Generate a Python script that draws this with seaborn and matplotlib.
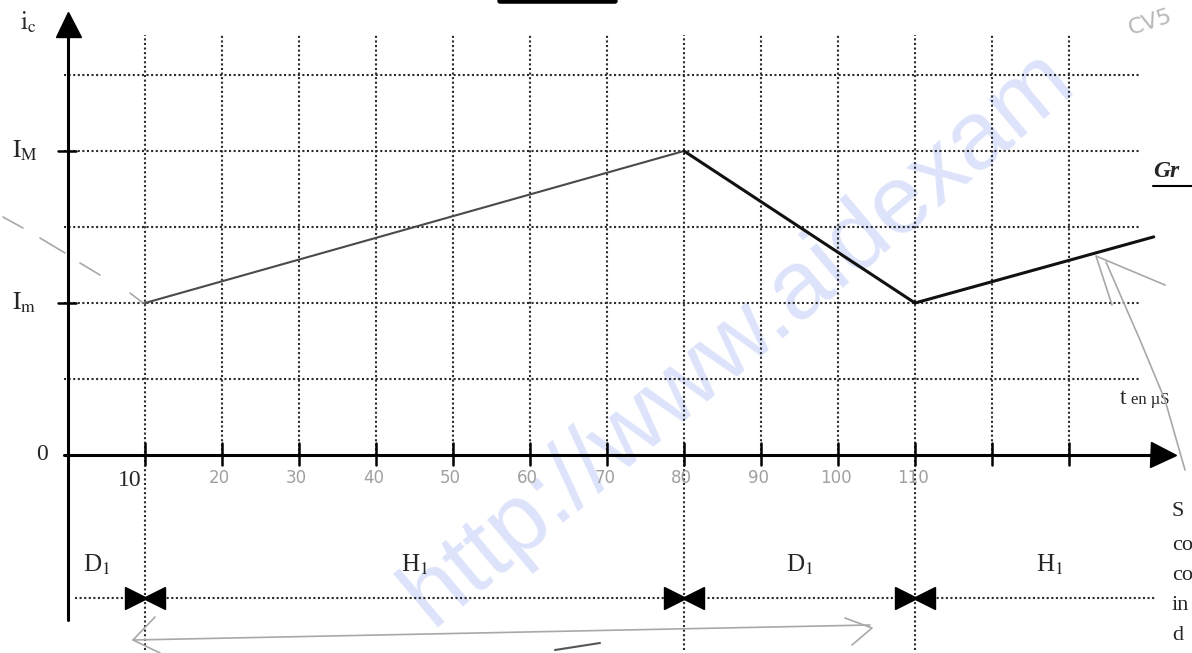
import matplotlib
matplotlib.use("Agg")
import matplotlib.pyplot as plt
import numpy as np
import pandas as pd
import seaborn as sns

# Collector current waveform i_c(t): corner times (µs) and levels (grid units, I_m = 2, I_M = 4)
t_nodes = [10, 80, 110, 141]
ic_nodes = [2.0, 4.0, 2.0, 2.87]

# Named current levels on the vertical axis
level_names = ["I_M", "I_m", "0"]
level_values = [4.0, 2.0, 0.0]

# Grid
h_grid = [1, 2, 3, 4, 5]
v_grid = [10, 20, 30, 40, 50, 60, 70, 80, 90, 100, 110, 120, 130]
long_verticals = [10, 80, 110]

# Hand-written time graduations
tick_values = [20, 30, 40, 50, 60, 70, 80, 90, 100, 110]
tick_labels = ["20", "30", "40", "50", "60", "70", "80", "90", "100", "110"]

# Conduction intervals (diode D1 / transistor H1)
interval_edges = [0, 10, 80, 110, 141]
interval_names = ["D$_1$", "H$_1$", "D$_1$", "H$_1$"]

sns.set_style("white")
plt.rcParams["font.family"] = ["Liberation Serif", "DejaVu Serif"]
plt.rcParams["mathtext.fontset"] = "stix"

PX_PER_US = 7.7
PX_PER_UNIT = 76.0
X0, Y0 = 68.0, 455.0
W, H = 1192, 653


def X(px):
    return (px - X0) / PX_PER_US


def Y(py):
    return (Y0 - py) / PX_PER_UNIT


fig = plt.figure(figsize=(W / 100, H / 100), dpi=100)
ax = fig.add_axes([0, 0, 1, 1])
ax.set_xlim(X(0), X(W))
ax.set_ylim(Y(H), Y(0))
ax.axis("off")

dot = (0, (1.0, 1.2))
grid_kw = dict(color="#2b2b2b", lw=1.5, linestyle=dot, zorder=2)

# watermark
ax.text(X(738), Y(338), "http://www.aidexam", fontsize=70, family="Liberation Sans",
        color="#dde3fa", rotation=40, rotation_mode="anchor", ha="center", va="center", zorder=0)

# dotted grid
for g in h_grid:
    ax.plot([X(64), X(1140)], [g, g], **grid_kw)
for v in v_grid:
    bottom = Y(650) if v in long_verticals else 0
    ax.plot([v, v], [bottom, Y(35)], **grid_kw)

# axes with arrows
ax.plot([0, 0], [Y(620), Y(30)], color="black", lw=2.2, zorder=4)
ax.plot([0], [Y(24)], marker="^", ms=18, color="black", zorder=4)
ax.plot([X(64), X(1155)], [0, 0], color="black", lw=2.2, zorder=4)
ax.plot([X(1163)], [0], marker=">", ms=18, color="black", zorder=4)

# graduations on the time axis
for v in v_grid:
    ax.plot([v, v], [Y(465), Y(443)], color="black", lw=1.8, zorder=4)
# level marks on the current axis
for name, val in zip(level_names, level_values):
    if val > 0:
        ax.plot([X(58), X(76)], [val, val], color="black", lw=1.8, zorder=4)

# level labels
ax.text(X(12), 4.0, r"$\mathrm{I_M}$", fontsize=18, ha="left", va="center")
ax.text(X(12), 2.0, r"$\mathrm{I_m}$", fontsize=18, ha="left", va="center")
ax.text(X(42), 0.0, "0", fontsize=17, ha="center", va="center")
ax.text(X(20), Y(22), r"$\mathrm{i_c}$", fontsize=18, ha="left", va="center")

# time labels
ax.text(X(130), Y(480), "10", fontsize=17, ha="center", va="center")
for v, lab in zip(tick_values, tick_labels):
    ax.text(v - 0.3, Y(478), lab, fontsize=12, family="DejaVu Sans", color="#a0a0a0",
            ha="center", va="center")
ax.text(X(1120), Y(398), "t", fontsize=17, ha="left", va="center")
ax.text(X(1131), Y(400), "en µS", fontsize=12, ha="left", va="center")

# waveform: linear rise while H1 conducts, fall while D1 conducts
df = pd.DataFrame({"t": t_nodes, "ic": ic_nodes})
sns.lineplot(data=df.iloc[0:2], x="t", y="ic", ax=ax, color="#4a4a4a", lw=1.5, zorder=5)
sns.lineplot(data=df.iloc[1:4], x="t", y="ic", ax=ax, color="#111111", lw=2.2, zorder=5)

# conduction intervals
y_int = Y(598)
ax.plot([X(75), X(1155)], [y_int, y_int], **grid_kw)
head_off = 9 / PX_PER_US
for edge in interval_edges[1:-1]:
    ax.plot([edge - head_off], [y_int], marker=">", ms=16, color="black", zorder=5)
    ax.plot([edge + head_off], [y_int], marker="<", ms=16, color="black", zorder=5)
for k, name in enumerate(interval_names):
    lo, hi = interval_edges[k], interval_edges[k + 1]
    xc = (lo + hi) / 2 if k > 0 else X(97)
    if k == len(interval_names) - 1:
        xc = X(1050)
    ax.text(xc, Y(565), name, fontsize=18, ha="center", va="center")

# pencil marks
pencil = dict(color="#a8a8a8", lw=1.2, zorder=3)
ax.plot([X(133), X(870)], [Y(640), Y(625)], **pencil)
ax.plot([X(155), X(133), X(160)], [Y(617), Y(640), Y(653)], **pencil)
ax.plot([X(845), X(872), X(852)], [Y(618), Y(628), Y(645)], **pencil)
ax.plot([X(555), X(600)], [Y(650), Y(643)], color="#555555", lw=1.5, zorder=3)
ax.plot([X(1112), X(1096), X(1165)], [Y(305), Y(256), Y(285)], **pencil)
ax.plot([X(1106), X(1140), X(1165), X(1185)], [Y(262), Y(340), Y(400), Y(470)], **pencil)
for (xa, ya, xb, yb) in [(3, 217, 23, 228), (40, 238, 65, 253), (80, 263, 100, 275), (130, 293, 143, 303)]:
    ax.plot([X(xa), X(xb)], [Y(ya), Y(yb)], **pencil)
ax.text(X(1150), Y(22), "CV5", fontsize=16, family="DejaVu Sans", color="#b8b8b8",
        rotation=18, ha="center", va="center")
ax.plot([X(500), X(615)], [Y(1), Y(1)], color="black", lw=4, zorder=3)

# neighbouring page text cut by the frame
ax.text(X(1153), Y(172), "Gr", fontsize=17, fontweight="bold", style="italic",
        ha="left", va="center")
ax.plot([X(1153), X(1192)], [Y(186), Y(186)], color="black", lw=1.5)
for yy, s in zip([512, 545, 575, 605, 635], ["S", "co", "co", "in", "d"]):
    ax.text(X(1172), Y(yy), s, fontsize=16, ha="left", va="center")

fig.savefig("out.png", dpi=100)
